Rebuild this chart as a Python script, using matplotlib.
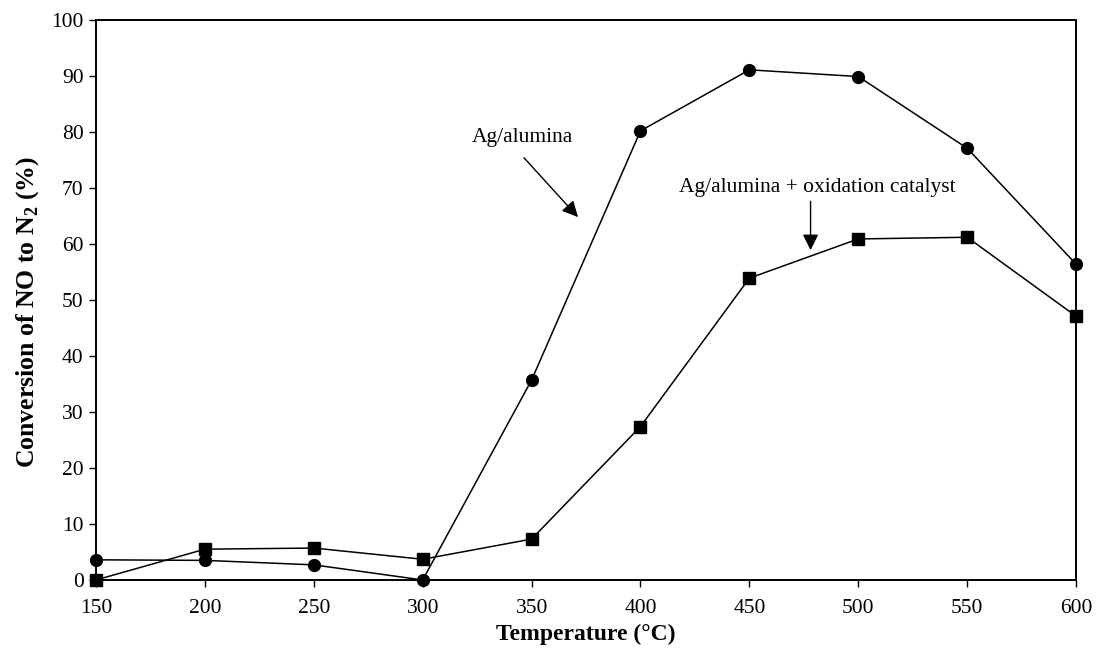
import matplotlib.pyplot as plt
import numpy as np

plt.rcParams['font.family'] = ['Liberation Serif', 'DejaVu Serif']
plt.rcParams['mathtext.fontset'] = 'custom'
plt.rcParams['mathtext.rm'] = 'Liberation Serif'
plt.rcParams['mathtext.bf'] = 'Liberation Serif:bold'

temps = [150, 200, 250, 300, 350, 400, 450, 500, 550, 600]
ag_alumina = [3.6, 3.5, 2.7, 0.0, 35.7, 80.2, 91.1, 89.9, 77.1, 56.4]
ag_alumina_ox = [0.0, 5.5, 5.7, 3.7, 7.3, 27.4, 53.9, 60.9, 61.2, 47.1]

fig = plt.figure(figsize=(10.96, 6.51), dpi=100)
ax = fig.add_axes([0.0876, 0.1091, 0.8942, 0.8602])

ax.plot(temps, ag_alumina, color='black', lw=1.1, marker='o', ms=8.5, clip_on=False, zorder=3)
ax.plot(temps, ag_alumina_ox, color='black', lw=1.1, marker='s', ms=8, clip_on=False, zorder=3)

ax.set_xlim(150, 600)
ax.set_ylim(0, 100)
ax.set_xticks(np.arange(150, 601, 50))
ax.set_yticks(np.arange(0, 101, 10))
ax.tick_params(direction='out', length=5, width=1, labelsize=15.5, pad=4)
ax.tick_params(axis='x', pad=9)
for sp in ax.spines.values():
    sp.set_linewidth(1.4)

ax.set_xlabel('Temperature (°C)', fontsize=17, fontweight='bold', labelpad=4)
ax.set_ylabel(r'Conversion of NO to N$_\mathbf{2}$ (%)', fontsize=18.5, fontweight='bold')
ax.yaxis.set_label_coords(-0.056, 0.479)

arrow = dict(arrowstyle='-|>', mutation_scale=24, lw=1, color='black', shrinkA=0, shrinkB=0)
ax.text(346, 79.0, 'Ag/alumina', fontsize=15.5, ha='center', va='center')
ax.annotate('', xy=(371.3, 64.8), xytext=(346.5, 75.4), arrowprops=arrow)
ax.text(481, 70.0, 'Ag/alumina + oxidation catalyst', fontsize=15.5, ha='center', va='center')
ax.annotate('', xy=(478.1, 58.9), xytext=(478.1, 67.6), arrowprops=arrow)

fig.savefig('out.png', dpi=100)
